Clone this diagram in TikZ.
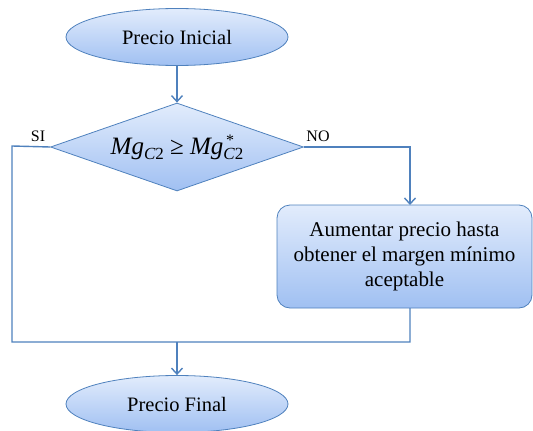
\documentclass[tikz,border=0pt]{standalone}
\usepackage{fontspec}
\IfFontExistsTF{LiberationSerif-Regular.ttf}{%
  \setmainfont{LiberationSerif}[Extension=.ttf,UprightFont=*-Regular,ItalicFont=*-Italic,BoldFont=*-Bold,BoldItalicFont=*-BoldItalic]}{%
  \setmainfont{Liberation Serif}}
\usetikzlibrary{shapes.geometric,arrows.meta}
\definecolor{lineblue}{RGB}{79,129,189}
\definecolor{filltop}{RGB}{226,236,252}
\definecolor{fillbot}{RGB}{160,192,242}
\tikzset{
  conn/.style={draw=lineblue, line width=1.4pt},
  arr/.style={conn, -{Straight Barb[length=6pt,width=11pt,line width=1.4pt]}},
  term/.style={ellipse, draw=lineblue, line width=0.8pt, top color=filltop, bottom color=fillbot,
    minimum width=222pt, minimum height=57pt, inner sep=0pt, font=\rmfamily\fontsize{20.5}{23}\selectfont},
  decision/.style={diamond, draw=lineblue, line width=0.8pt, top color=filltop, bottom color=fillbot,
    minimum width=253pt, minimum height=88pt, aspect=2.875, inner sep=0pt, font=\rmfamily},
  process/.style={rectangle, rounded corners=13pt, draw=lineblue, line width=0.8pt, top color=filltop, bottom color=fillbot,
    minimum width=255pt, minimum height=103pt, align=center, font=\rmfamily\fontsize{21}{25}\selectfont},
  lbl/.style={font=\rmfamily\fontsize{16}{18}\selectfont, inner sep=0pt}
}
\begin{document}
\begin{tikzpicture}[x=1pt,y=-1pt]
\useasboundingbox (0,0) rectangle (533,431);
\node[term] (start) at (177,37) {Precio Inicial};
\node[decision] (dec) at (177,147) {%
  \fontsize{25}{28}\selectfont\itshape Mg\raisebox{-5pt}{\fontsize{17}{17}\selectfont C\upshape 2}\upshape\ ≥ \itshape Mg\makebox[0pt][l]{\raisebox{9pt}{\fontsize{16}{16}\selectfont\upshape\,*}}\raisebox{-5pt}{\fontsize{17}{17}\selectfont C\upshape 2}};
\node[process] (box) at (404.5,256.5) {Aumentar precio hasta\\obtener el margen mínimo\\aceptable};
\node[term] (end) at (177,404) {Precio Final};
\coordinate (left) at (12,146);
\coordinate (j) at (177,342);
\coordinate (boxin) at (410,205);
\coordinate (boxout) at (410,308);
\node[lbl] (si) at (38,136) {SI};
\node[lbl] (no) at (318,136) {NO};
\draw[arr] (start) -- (dec.north);
\draw[arr] (dec.east) -| (boxin);
\draw[conn] (dec.west) -- (left) |- (j) -- (410,342) -- (boxout);
\draw[arr] (j) -- (end.north);
\end{tikzpicture}
\end{document}
